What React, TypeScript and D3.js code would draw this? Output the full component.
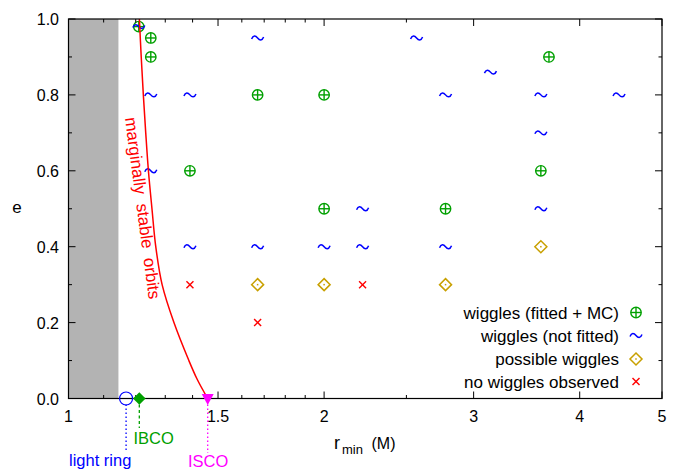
import React from "react";
import * as d3 from "d3";

// ---- data ----
const fittedR = [1.21, 1.25, 1.25, 1.67, 2.0, 1.39, 2.0, 2.78, 3.6, 3.68];
const fittedE = [0.98, 0.95, 0.9, 0.8, 0.8, 0.6, 0.5, 0.5, 0.6, 0.9];

const notFittedR = [1.21, 1.67, 2.57, 3.14, 1.25, 1.39, 2.78, 3.6, 4.45, 3.6, 1.25, 2.22, 3.6, 1.39, 1.67, 2.0, 2.22, 2.78];
const notFittedE = [0.98, 0.95, 0.95, 0.86, 0.8, 0.8, 0.8, 0.8, 0.8, 0.7, 0.6, 0.5, 0.5, 0.4, 0.4, 0.4, 0.4, 0.4];

const possibleR = [1.67, 2.0, 2.78, 3.6];
const possibleE = [0.3, 0.3, 0.3, 0.4];

const noneR = [1.39, 2.22, 1.67];
const noneE = [0.3, 0.3, 0.2];

// marginally stable orbits curve
const msoE = [1.0, 0.9, 0.8, 0.7, 0.6, 0.5, 0.4, 0.3, 0.2, 0.1, 0.05, 0.0];
const msoR = [1.212, 1.218, 1.225, 1.233, 1.242, 1.254, 1.267, 1.289, 1.331, 1.386, 1.418, 1.4586];

const horizonR = 1.145;
const lightRingR = 1.169;
const ibcoR = 1.2117;
const iscoR = 1.4586;

const xMajor = [1, 1.5, 2, 3, 4, 5];
const xMajorLabels = ["1", "1.5", "2", "3", "4", "5"];
const xMinor = [1.1, 1.2, 1.3, 1.4, 1.6, 1.7, 1.8, 1.9, 2.5];
const yMajor = [0, 0.2, 0.4, 0.6, 0.8, 1.0];
const yMinor = [0.1, 0.3, 0.5, 0.7, 0.9];

const legendLabels = ["wiggles (fitted + MC)", "wiggles (not fitted)", "possible wiggles", "no wiggles observed"];

const FONT = "'Liberation Sans', Arial, Helvetica, sans-serif";
const GREEN = "#00a000";
const BLUE = "#0000ff";
const GOLD = "#c8a000";
const RED = "#ff0000";
const MAGENTA = "#ff00ff";

const X0 = 68.5, X1 = 662, Y0 = 398.5, Y1 = 19;

function Fitted({ cx, cy }: { cx: number; cy: number }) {
  return (
    <g stroke={GREEN} strokeWidth={1.4} fill="none">
      <circle cx={cx} cy={cy} r={5.2} />
      <line x1={cx - 5.2} x2={cx + 5.2} y1={cy} y2={cy} />
      <line x1={cx} x2={cx} y1={cy - 5.2} y2={cy + 5.2} />
    </g>
  );
}
function Tilde({ cx, cy }: { cx: number; cy: number }) {
  return (
    <path
      d={`M${cx - 6},${cy + 1} C${cx - 4.5},${cy - 3} ${cx - 2},${cy - 2.5} ${cx},${cy} S${cx + 4.5},${cy + 3} ${cx + 6},${cy - 1}`}
      stroke={BLUE}
      strokeWidth={1.5}
      fill="none"
    />
  );
}
function Diamond({ cx, cy }: { cx: number; cy: number }) {
  const s = 6;
  return (
    <g>
      <path d={`M${cx},${cy - s} L${cx + s},${cy} L${cx},${cy + s} L${cx - s},${cy} Z`} stroke={GOLD} strokeWidth={1.5} fill="none" />
      <rect x={cx - 0.75} y={cy - 0.75} width={1.5} height={1.5} fill={GOLD} />
    </g>
  );
}
function Cross({ cx, cy }: { cx: number; cy: number }) {
  const s = 3.5;
  return (
    <g stroke={RED} strokeWidth={1.4}>
      <line x1={cx - s} y1={cy - s} x2={cx + s} y2={cy + s} />
      <line x1={cx - s} y1={cy + s} x2={cx + s} y2={cy - s} />
    </g>
  );
}

export default function App() {
  const x = d3.scaleLog().domain([1, 5]).range([X0, X1]);
  const y = d3.scaleLinear().domain([0, 1]).range([Y0, Y1]);

  const msoPts = msoE.map((e, i) => [msoR[i], e] as [number, number]);
  const line = d3
    .line<[number, number]>()
    .x((d) => x(d[0]))
    .y((d) => y(d[1]))
    .curve(d3.curveCatmullRom);

  const legendX = 636;
  const legendY = [312.5, 335.5, 359, 381.5];

  const rows = [
    (cx: number, cy: number) => <Fitted cx={cx} cy={cy} />,
    (cx: number, cy: number) => <Tilde cx={cx} cy={cy} />,
    (cx: number, cy: number) => <Diamond cx={cx} cy={cy} />,
    (cx: number, cy: number) => <Cross cx={cx} cy={cy} />,
  ];

  const y0px = y(0);

  return (
    <div style={{ position: "absolute", left: 0, top: 0 }}>
      <svg width={681} height={470} style={{ display: "block", background: "#fff" }} fontFamily={FONT}>
        {/* horizon region */}
        <rect x={X0} y={Y1} width={x(horizonR) - X0} height={Y0 - Y1} fill="#b3b3b3" />

        {/* data points */}
        {fittedR.map((r, i) => (
          <Fitted key={"f" + i} cx={x(r)} cy={y(fittedE[i])} />
        ))}
        {notFittedR.map((r, i) => (
          <Tilde key={"n" + i} cx={x(r)} cy={y(notFittedE[i])} />
        ))}
        {possibleR.map((r, i) => (
          <Diamond key={"p" + i} cx={x(r)} cy={y(possibleE[i])} />
        ))}
        {noneR.map((r, i) => (
          <Cross key={"c" + i} cx={x(r)} cy={y(noneE[i])} />
        ))}

        {/* marginally stable orbit curve */}
        <path d={line(msoPts) || ""} stroke={RED} strokeWidth={1.5} fill="none" />
        <text
          transform={`translate(125,118) rotate(82.5)`}
          fill={RED}
          fontSize={17}
          style={{ whiteSpace: "pre" }}
        >
          {"marginally  stable  orbits"}
        </text>

        {/* frame */}
        <rect x={X0} y={Y1} width={X1 - X0} height={Y0 - Y1} fill="none" stroke="#000" strokeWidth={1.2} />

        {/* x ticks */}
        {xMajor.map((v) => (
          <g key={"xM" + v} stroke="#000" strokeWidth={1}>
            <line x1={x(v)} x2={x(v)} y1={Y0} y2={Y0 - 7} />
            <line x1={x(v)} x2={x(v)} y1={Y1} y2={Y1 + 7} />
          </g>
        ))}
        {xMinor.map((v) => (
          <g key={"xm" + v} stroke="#000" strokeWidth={1}>
            <line x1={x(v)} x2={x(v)} y1={Y0} y2={Y0 - 3.5} />
            <line x1={x(v)} x2={x(v)} y1={Y1} y2={Y1 + 3.5} />
          </g>
        ))}
        {xMajor.map((v, i) => (
          <text key={"xl" + v} x={x(v)} y={421.5} textAnchor="middle" fontSize={16} fill="#000">
            {xMajorLabels[i]}
          </text>
        ))}

        {/* y ticks */}
        {yMajor.map((v) => (
          <g key={"yM" + v} stroke="#000" strokeWidth={1}>
            <line x1={X0} x2={X0 + 7} y1={y(v)} y2={y(v)} />
            <line x1={X1} x2={X1 - 7} y1={y(v)} y2={y(v)} />
          </g>
        ))}
        {yMinor.map((v) => (
          <g key={"ym" + v} stroke="#000" strokeWidth={1}>
            <line x1={X0} x2={X0 + 3.5} y1={y(v)} y2={y(v)} />
            <line x1={X1} x2={X1 - 3.5} y1={y(v)} y2={y(v)} />
          </g>
        ))}
        {yMajor.map((v) => (
          <text key={"yl" + v} x={59} y={y(v) + 6} textAnchor="end" fontSize={16} fill="#000">
            {v.toFixed(1)}
          </text>
        ))}

        {/* axis titles */}
        <text x={17} y={213} textAnchor="middle" fontSize={17} fill="#000">e</text>
        <text x={334} y={449} fontSize={18} fill="#000">r</text>
        <text x={342} y={453.5} fontSize={13} fill="#000">min</text>
        <text x={371.5} y={449} fontSize={16} fill="#000">(M)</text>

        {/* special radii markers */}
        <line x1={x(lightRingR)} x2={x(lightRingR)} y1={y0px + 6} y2={452} stroke={BLUE} strokeWidth={1.3} strokeDasharray="1.5,2.5" />
        <line x1={x(ibcoR)} x2={x(ibcoR)} y1={y0px + 6} y2={428} stroke={GREEN} strokeWidth={1.3} strokeDasharray="3,2.5" />
        <line x1={x(iscoR)} x2={x(iscoR)} y1={y0px + 6} y2={453} stroke={MAGENTA} strokeWidth={1.3} strokeDasharray="1.5,2.5" />

        <circle cx={x(lightRingR)} cy={y0px} r={6.5} fill="none" stroke={BLUE} strokeWidth={1.2} />
        <path
          d={`M${x(ibcoR)},${y0px - 6.3} L${x(ibcoR) + 6.3},${y0px} L${x(ibcoR)},${y0px + 6.3} L${x(ibcoR) - 6.3},${y0px} Z`}
          fill={GREEN}
        />
        <path
          d={`M${x(iscoR) - 6},${y0px - 4.5} L${x(iscoR) + 6},${y0px - 4.5} L${x(iscoR)},${y0px + 6.5} Z`}
          fill={MAGENTA}
        />

        <text x={69} y={466} fontSize={16.5} fill={BLUE}>light ring</text>
        <text x={133.5} y={444} fontSize={16.5} fill={GREEN}>IBCO</text>
        <text x={188} y={467} fontSize={16.5} fill={MAGENTA}>ISCO</text>

        {/* legend */}
        {legendLabels.map((t, i) => (
          <g key={"lg" + i}>
            <text x={619} y={legendY[i] + 6} textAnchor="end" fontSize={17} fill="#000">
              {t}
            </text>
            {rows[i](legendX, legendY[i])}
          </g>
        ))}
      </svg>
    </div>
  );
}
